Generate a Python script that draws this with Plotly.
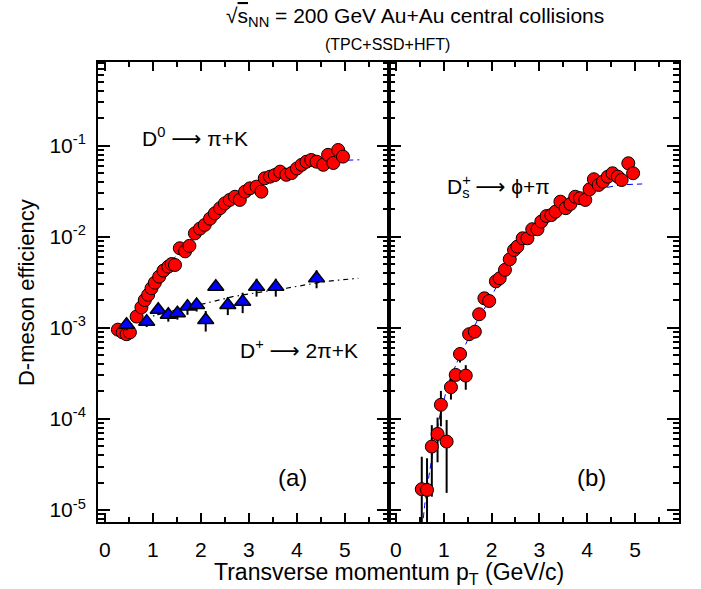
import plotly.graph_objects as go

# ---------------- data ----------------
# Panel (a): D0 -> pi+K
d0_pt = [0.27, 0.37, 0.45, 0.52, 0.66, 0.76, 0.83, 0.90, 0.97, 1.04, 1.13, 1.22, 1.32, 1.39,
         1.46, 1.56, 1.67, 1.76, 1.875, 1.98, 2.08, 2.19, 2.29, 2.40, 2.50, 2.60, 2.71, 2.81,
         2.92, 3.02, 3.16, 3.26, 3.33, 3.44, 3.54, 3.65, 3.78, 3.89, 4.00, 4.10, 4.20, 4.30,
         4.41, 4.55, 4.65, 4.76, 4.86, 4.96]
d0_eff = [9.55e-4, 8.91e-4, 8.51e-4, 8.91e-4, 1.33e-3, 1.68e-3, 2.02e-3, 2.30e-3, 2.72e-3,
          3.13e-3, 3.65e-3, 4.25e-3, 4.70e-3, 5.02e-3, 4.90e-3, 7.48e-3, 6.92e-3, 7.94e-3,
          1.09e-2, 1.23e-2, 1.35e-2, 1.58e-2, 1.81e-2, 2.06e-2, 2.33e-2, 2.54e-2, 2.75e-2,
          2.54e-2, 3.13e-2, 3.40e-2, 3.55e-2, 3.13e-2, 4.39e-2, 4.57e-2, 4.76e-2, 5.19e-2,
          4.79e-2, 5.01e-2, 5.62e-2, 6.17e-2, 6.67e-2, 6.97e-2, 6.67e-2, 6.17e-2, 7.94e-2,
          6.46e-2, 8.97e-2, 7.59e-2]
d0_fit_pt = [0.3, 0.5, 0.7, 0.9, 1.1, 1.3, 1.5, 1.75, 2.0, 2.3, 2.6, 3.0, 3.4, 3.8, 4.2, 4.6, 5.0, 5.3]
d0_fit_eff = [8.91e-4, 1.0e-3, 1.45e-3, 2.29e-3, 3.47e-3, 4.79e-3, 6.31e-3, 8.51e-3, 1.20e-2,
              1.78e-2, 2.45e-2, 3.39e-2, 4.37e-2, 5.13e-2, 6.03e-2, 6.61e-2, 6.92e-2, 7.0e-2]

# Panel (a): D+ -> 2pi+K
dp_pt = [0.45, 0.87, 1.11, 1.32, 1.51, 1.72, 1.91, 2.10, 2.31, 2.56, 2.87, 3.16, 3.56, 4.41]
dp_eff = [1.08e-3, 1.17e-3, 1.58e-3, 1.39e-3, 1.45e-3, 1.71e-3, 1.78e-3, 1.22e-3, 2.83e-3,
          1.78e-3, 1.94e-3, 2.83e-3, 2.83e-3, 3.50e-3]
dp_err = [1.4e-4, 1.5e-4, 2.0e-4, 2.2e-4, 2.2e-4, 3.2e-4, 2.7e-4, 3.1e-4, 2.8e-4, 4.0e-4,
          4.9e-4, 6.3e-4, 6.3e-4, 7.8e-4]
dp_fit_pt = [1.0, 1.5, 2.1, 2.66, 3.2, 3.78, 4.6, 5.28]
dp_fit_eff = [1.35e-3, 1.58e-3, 1.86e-3, 2.20e-3, 2.45e-3, 2.72e-3, 3.24e-3, 3.50e-3]

# Panel (b): Ds+ -> phi+pi
ds_pt = [0.54, 0.65, 0.75, 0.87, 0.94, 1.06, 1.15, 1.25, 1.34, 1.46, 1.53, 1.65, 1.74, 1.85,
         1.95, 2.09, 2.17, 2.28, 2.38, 2.47, 2.54, 2.65, 2.75, 2.85, 2.96, 3.04, 3.15, 3.25,
         3.34, 3.44, 3.55, 3.65, 3.75, 3.85, 3.96, 4.05, 4.14, 4.24, 4.33, 4.43, 4.53, 4.64,
         4.72, 4.86, 4.96]
ds_eff = [1.69e-5, 1.66e-5, 4.97e-5, 6.84e-5, 1.43e-4, 5.64e-5, 2.23e-4, 3.04e-4, 5.16e-4,
          2.99e-4, 8.51e-4, 9.08e-4, 1.41e-3, 2.11e-3, 1.97e-3, 3.24e-3, 3.50e-3, 4.33e-3,
          5.66e-3, 7.16e-3, 7.80e-3, 9.62e-3, 9.62e-3, 1.21e-2, 1.21e-2, 1.47e-2, 1.69e-2,
          1.73e-2, 1.89e-2, 2.43e-2, 2.06e-2, 2.29e-2, 2.75e-2, 2.65e-2, 2.54e-2, 3.32e-2,
          4.28e-2, 3.71e-2, 4.03e-2, 4.57e-2, 4.98e-2, 4.57e-2, 4.20e-2, 6.41e-2, 4.98e-2]
ds_err = [2.16e-5, 2.04e-5, 3.57e-5, 3.5e-5, 6.0e-5, 4.1e-5, 6.0e-5, 4.0e-5, 1.0e-4, 9.0e-5,
          5.0e-5, 5.0e-5, 8.0e-5, 1.0e-4, 1.0e-4, 1.2e-4, 1.2e-4, 1.5e-4, 2.0e-4, 2.5e-4,
          2.5e-4, 3.0e-4, 3.0e-4, 4.0e-4, 4.0e-4, 5.0e-4, 5.0e-4, 5.0e-4, 6.0e-4, 7.0e-4,
          6.0e-4, 7.0e-4, 8.0e-4, 8.0e-4, 8.0e-4, 1.0e-3, 1.2e-3, 1.1e-3, 1.2e-3, 1.3e-3,
          1.5e-3, 1.4e-3, 1.3e-3, 2.0e-3, 1.6e-3]
ds_fit_pt = [0.55, 0.6, 0.7, 0.8, 0.92, 1.1, 1.3, 1.48, 1.7, 1.96, 2.2, 2.5, 2.8, 3.1, 3.5,
             3.9, 4.3, 4.7, 5.15]
ds_fit_eff = [6.31e-6, 1.12e-5, 2.57e-5, 5.25e-5, 1.10e-4, 2.51e-4, 4.47e-4, 7.08e-4, 1.20e-3,
              2.04e-3, 3.55e-3, 6.76e-3, 1.10e-2, 1.58e-2, 2.19e-2, 2.82e-2, 3.39e-2, 3.72e-2,
              3.80e-2]

y_tick_vals = [1e-5, 1e-4, 1e-3, 1e-2, 1e-1]
y_tick_text = ["10<sup>-5</sup>", "10<sup>-4</sup>", "10<sup>-3</sup>", "10<sup>-2</sup>", "10<sup>-1</sup>"]
y_minor_vals = [m * 10.0 ** e for e in range(-6, 0) for m in range(2, 10)]

FONT = "Liberation Sans, Arial, Helvetica, sans-serif"
RED = "#ff0000"
BLUE = "#0000ff"
ARROW = "<span style='font-family:DejaVu Sans'>⟶</span>"
CLEAR = "rgba(0,0,0,0)"

fig = go.Figure()

# fits first (drawn underneath)
fig.add_trace(go.Scatter(x=d0_fit_pt, y=d0_fit_eff, mode="lines", xaxis="x", yaxis="y",
                         line=dict(color=BLUE, width=1, dash="6px,4px"), showlegend=False))
fig.add_trace(go.Scatter(x=dp_fit_pt, y=dp_fit_eff, mode="lines", xaxis="x", yaxis="y",
                         line=dict(color="black", width=1.2, dash="1.5px,4px,5px,4px"), showlegend=False))
fig.add_trace(go.Scatter(x=ds_fit_pt, y=ds_fit_eff, mode="lines", xaxis="x2", yaxis="y2",
                         line=dict(color=BLUE, width=1, dash="6px,4px"), showlegend=False))

# data
fig.add_trace(go.Scatter(x=d0_pt, y=d0_eff, mode="markers", xaxis="x", yaxis="y",
                         marker=dict(symbol="circle", size=13, color=RED,
                                     line=dict(color="black", width=1)), showlegend=False))
fig.add_trace(go.Scatter(x=dp_pt, y=dp_eff, mode="markers", xaxis="x", yaxis="y",
                         error_y=dict(type="data", array=dp_err, color="black", thickness=2, width=0),
                         marker=dict(symbol="triangle-up", size=14, color=BLUE,
                                     line=dict(color="black", width=1.5)), showlegend=False))
fig.add_trace(go.Scatter(x=ds_pt, y=ds_eff, mode="markers", xaxis="x2", yaxis="y2",
                         error_y=dict(type="data", array=ds_err, color="black", thickness=2, width=0),
                         marker=dict(symbol="circle", size=13, color=RED,
                                     line=dict(color="black", width=1)), showlegend=False))

split = 0.5009
xcommon = dict(range=[-0.145, 5.92], tick0=0, dtick=1, ticks="inside", ticklen=9, tickwidth=1.5,
               tickcolor="black", minor=dict(dtick=0.5, ticks="inside", ticklen=5, tickwidth=1.5,
                                             tickcolor="black"),
               showline=True, linewidth=2, linecolor="black", mirror="ticks", showgrid=False,
               zeroline=False, tickfont=dict(family=FONT, size=21, color="black"),
               ticklabelstandoff=8)
ycommon = dict(type="log", range=[-5.132, -0.081], tickmode="array", tickvals=y_tick_vals,
               ticktext=y_tick_text, ticks="inside", ticklen=12, tickwidth=1.5, tickcolor="black",
               minor=dict(tickmode="array", tickvals=y_minor_vals, ticks="inside", ticklen=6,
                          tickwidth=1.5, tickcolor="black"),
               showline=True, linewidth=2, linecolor="black", mirror="ticks", showgrid=False,
               zeroline=False, tickfont=dict(family=FONT, size=21, color="black"),
               ticklabelstandoff=6)

fig.update_layout(
    width=701, height=589,
    margin=dict(l=98, r=22, t=62, b=67),
    paper_bgcolor="white", plot_bgcolor="white",
    xaxis=dict(domain=[0, split], anchor="y", **xcommon),
    xaxis2=dict(domain=[split, 1], anchor="y2", **xcommon),
    yaxis=dict(anchor="x", **ycommon),
    yaxis2=dict(anchor="x2", showticklabels=False, **ycommon),
    font=dict(family=FONT, color="black"),
)

def ann(text, x, y, size, xanchor="center", yanchor="middle", angle=0):
    fig.add_annotation(text=text, x=x, y=y, xref="paper", yref="paper", showarrow=False,
                       xanchor=xanchor, yanchor=yanchor, textangle=angle,
                       font=dict(family=FONT, size=size, color="black"))

ann("√<span style='text-decoration:overline'>s</span><sub>NN</sub> = 200 GeV Au+Au central collisions",
    0.545, 1.098, 21)
ann("(TPC+SSD+HFT)", 0.499, 1.039, 16)
ann("Transverse momentum p<sub>T</sub> (GeV/c)", 0.501, -0.111, 23)
ann("D-meson efficiency", -0.122, 0.498, 22, angle=-90)
ann("D<sup>0</sup> " + ARROW + " π+K", 0.0723, 0.835, 21, xanchor="left")
ann("D<sup>+</sup> " + ARROW + " 2π+K", 0.241, 0.374, 21, xanchor="left")
# Ds+ : subscript s placed under the superscript +
ann("D<sub>s</sub> " + ARROW + " ϕ+π<sup><span style='color:" + CLEAR + "'>+</span></sup>",
    0.597, 0.730, 21, xanchor="left")
ann("<span style='color:" + CLEAR + "'>D</span><sup>+</sup><sub><span style='color:" + CLEAR
    + "'>s</span></sub>", 0.597, 0.730, 21, xanchor="left")
ann("(a)", 0.334, 0.0957, 24)
ann("(b)", 0.850, 0.0957, 24)

fig.write_html("out.html")
